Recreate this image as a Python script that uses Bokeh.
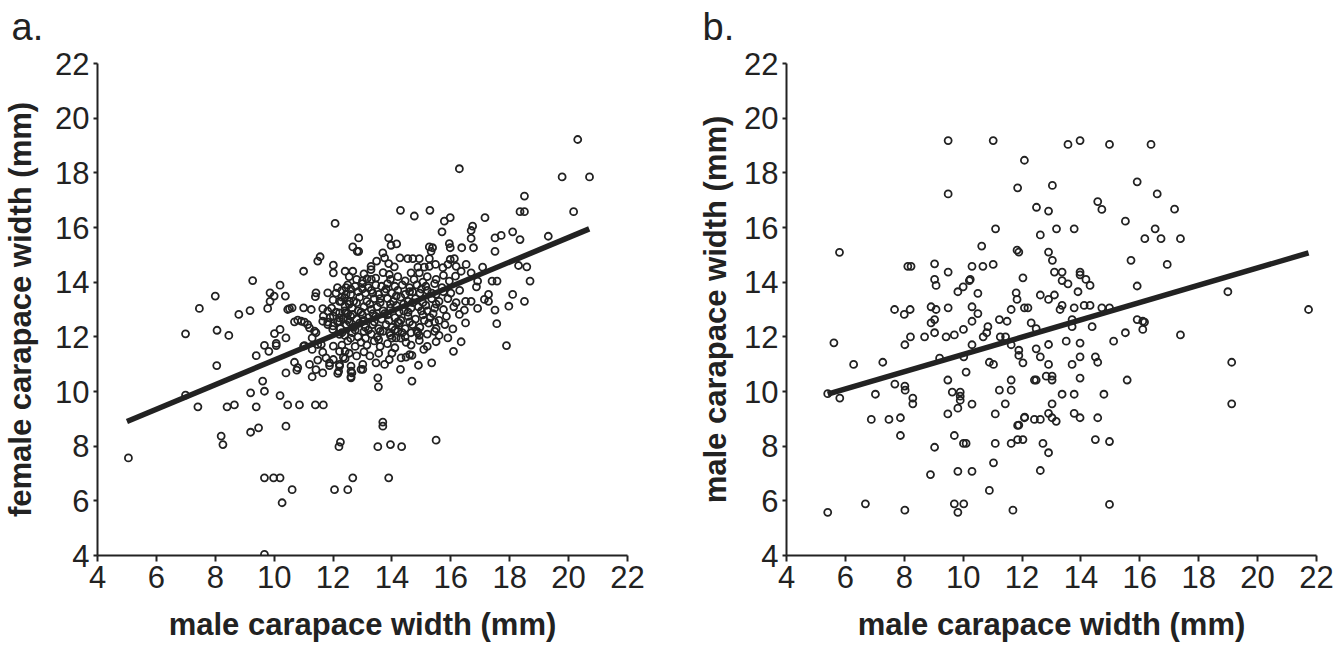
from bokeh.plotting import figure
from bokeh.layouts import row
from bokeh.models import Range1d, FixedTicker, Title
from bokeh.embed import file_html
from bokeh.resources import INLINE

# ---------------- data ----------------
tick_values = [4, 6, 8, 10, 12, 14, 16, 18, 20, 22]

# panel a: male vs female carapace width (mm), pairs
a_outer = [
    (5.05, 7.57), (6.99, 12.11), (6.99, 9.87), (7.41, 9.44), (7.46, 13.04), (8.0, 13.49),
    (8.05, 10.95), (8.06, 12.24), (8.2, 8.37), (8.26, 8.06), (8.4, 9.44), (8.46, 12.05),
    (8.65, 9.51), (8.8, 12.82), (9.18, 12.96), (9.2, 8.51), (9.47, 8.67), (9.2, 9.95),
    (9.27, 14.06), (9.39, 9.44), (9.39, 11.31), (9.61, 10.38), (9.67, 10.01), (9.67, 11.69),
    (9.82, 11.47), (9.78, 13.04), (9.86, 13.61), (10.0, 13.49), (9.86, 13.3), (10.2, 13.89),
    (10.38, 13.49), (10.52, 13.03), (10.46, 13.0), (10.61, 13.06), (11.0, 13.06), (11.26, 13.0),
    (11.65, 13.03), (11.82, 12.94), (11.4, 13.47), (11.42, 13.61), (11.82, 13.61), (11.0, 14.4),
    (11.56, 14.93), (11.48, 14.77), (12.01, 14.62), (12.01, 14.34), (12.07, 16.15), (12.41, 14.4),
    (12.44, 13.8), (12.44, 13.55), (12.22, 13.3), (12.41, 13.12), (12.22, 12.88), (12.44, 12.88),
    (10.69, 12.55), (10.92, 12.57), (11.14, 12.45), (10.8, 12.61), (11.03, 12.54), (11.2, 12.33),
    (11.65, 12.57), (11.82, 12.45), (11.67, 12.76), (11.82, 12.54), (12.01, 12.76), (12.22, 12.57),
    (11.42, 12.15), (11.29, 11.96), (11.37, 12.21), (11.99, 12.27), (12.22, 12.09), (10.01, 12.12),
    (10.2, 12.27), (10.4, 11.96), (10.07, 11.76), (10.07, 11.68), (11.03, 11.68), (11.29, 11.54),
    (11.48, 11.72), (11.65, 11.44), (11.0, 11.66), (11.6, 11.72), (12.01, 11.66), (12.22, 11.47),
    (12.41, 11.47), (12.01, 11.17), (12.22, 10.99), (12.41, 11.2), (11.48, 11.15), (11.76, 11.23),
    (10.69, 11.07), (10.8, 10.87), (10.77, 10.78), (11.2, 10.99), (11.42, 10.8), (11.65, 10.68),
    (11.29, 10.54), (11.88, 10.95), (12.19, 10.74), (10.4, 10.68), (10.2, 9.85), (10.46, 9.51),
    (10.86, 9.51), (11.4, 9.51), (11.67, 9.51), (10.4, 8.73), (12.25, 8.15), (12.2, 7.98),
    (9.67, 6.84), (9.98, 6.84), (10.2, 6.84), (10.27, 5.93), (10.61, 6.41), (9.67, 4.04),
    (12.05, 6.41), (12.5, 6.41), (12.67, 6.84), (13.89, 6.84), (13.69, 8.73), (13.69, 8.88),
    (15.5, 8.22), (13.52, 7.98), (13.95, 8.06), (14.33, 7.98),
    (20.31, 19.22), (19.78, 17.85), (20.71, 17.85), (16.29, 18.15), (18.5, 17.15), (18.35, 16.58),
    (18.5, 16.58), (20.17, 16.58), (14.29, 16.63), (14.76, 16.42), (15.29, 16.63), (15.78, 16.23),
    (15.98, 16.36), (15.7, 15.84), (16.74, 16.05), (16.69, 15.89), (16.69, 15.6), (17.16, 16.36),
    (18.1, 15.84), (17.5, 15.62), (17.71, 15.71), (18.35, 15.56), (19.31, 15.68), (12.87, 15.62),
    (13.89, 15.62), (13.97, 15.35), (14.16, 15.4), (12.67, 15.29), (12.82, 15.13), (12.87, 15.13),
    (15.27, 15.29), (15.38, 15.26), (15.33, 15.13), (15.95, 15.41), (15.98, 15.26), (16.37, 15.26),
    (16.77, 15.26), (17.5, 15.13), (12.67, 14.4), (13.15, 14.12), (13.29, 14.58), (13.29, 14.46),
    (13.48, 14.77), (13.69, 15.07), (13.75, 14.89), (13.89, 14.68), (14.08, 14.56), (14.27, 14.89),
    (13.91, 14.28), (14.54, 14.86), (14.71, 14.86), (14.93, 14.86), (14.88, 14.55), (15.1, 14.55),
    (15.27, 14.86), (15.27, 14.58), (15.48, 14.65), (14.65, 14.34), (14.93, 14.34), (15.73, 14.53),
    (15.9, 14.65), (15.98, 14.83), (16.12, 14.86), (16.18, 14.58), (16.35, 14.4), (16.52, 14.65),
    (17.08, 14.55), (18.3, 14.61), (18.58, 14.56), (18.69, 14.04), (17.4, 14.04), (17.57, 14.04),
    (16.69, 14.34), (16.91, 14.04), (16.87, 13.83), (17.28, 13.55), (18.1, 13.55), (18.5, 13.3),
    (17.97, 13.12), (17.5, 12.98), (17.56, 12.48), (17.14, 13.37), (17.28, 13.3), (16.91, 13.04),
    (16.46, 12.98), (16.29, 12.82), (16.5, 12.51), (16.18, 13.25), (16.5, 13.3), (16.69, 13.3),
    (15.95, 14.04), (16.16, 14.22), (12.39, 13.43), (12.56, 13.3), (12.28, 13.3), (12.67, 12.82),
    (12.5, 12.63), (12.22, 12.69), (17.89, 11.68), (16.35, 11.82), (16.09, 11.47), (15.5, 11.82),
    (15.35, 11.05), (15.08, 11.54), (14.9, 10.96), (14.68, 10.38), (14.29, 10.81), (14.48, 11.26),
    (14.68, 11.32), (14.31, 11.23), (13.52, 10.5), (13.54, 10.17), (12.61, 10.5), (12.64, 10.68),
    (12.61, 10.93), (12.95, 10.81), (14.93, 11.87), (15.9, 11.96), (16.07, 12.29), (14.48, 11.8),
    (14.93, 12.05), (14.88, 12.15), (14.14, 11.96), (13.92, 12.15), (13.91, 11.17), (13.75, 10.99),
    (13.46, 11.05), (13.01, 10.99), (13.01, 10.81), (12.61, 10.74), (12.61, 10.54), (12.22, 10.93),
    (12.16, 10.66), (11.88, 11.05),
]
a_core = [
    (12.55, 14.2), (12.8, 14.1), (13.05, 14.3), (13.45, 14.15), (13.7, 14.35), (14.2, 14.2),
    (14.45, 14.05), (15.2, 14.2), (15.5, 14.1), (15.75, 14.25),
    (12.5, 13.9), (12.75, 13.85), (13.0, 13.95), (13.2, 13.8), (13.45, 13.9), (13.65, 13.85),
    (13.85, 13.95), (14.1, 13.85), (14.35, 13.9), (14.6, 13.8), (14.85, 13.9), (15.15, 13.85),
    (15.45, 13.95), (15.7, 13.8),
    (12.1, 13.6), (12.3, 13.7), (12.6, 13.55), (12.85, 13.65), (13.1, 13.6), (13.3, 13.7),
    (13.55, 13.55), (13.75, 13.65), (14.0, 13.6), (14.2, 13.7), (14.45, 13.55), (14.7, 13.65),
    (14.95, 13.6), (15.2, 13.7), (15.5, 13.55), (15.75, 13.65), (16.0, 13.6), (16.3, 13.7),
    (12.0, 13.35), (12.7, 13.3), (12.9, 13.45), (13.15, 13.3), (13.4, 13.4), (13.6, 13.25),
    (13.85, 13.4), (14.05, 13.3), (14.3, 13.45), (14.55, 13.3), (14.8, 13.4), (15.05, 13.25),
    (15.35, 13.4), (15.6, 13.3), (15.9, 13.4),
    (11.95, 13.05), (12.4, 12.95), (12.65, 13.05), (12.85, 12.95), (13.05, 13.1), (13.3, 13.0),
    (13.5, 13.1), (13.7, 12.95), (13.95, 13.05), (14.15, 13.15), (14.4, 12.95), (14.65, 13.05),
    (14.9, 13.1), (15.2, 12.95), (15.45, 13.05), (15.75, 13.0), (16.1, 13.1),
    (11.9, 12.7), (12.35, 12.65), (12.6, 12.75), (12.8, 12.65), (13.0, 12.8), (13.2, 12.7),
    (13.45, 12.75), (13.65, 12.65), (13.85, 12.8), (14.1, 12.7), (14.3, 12.6), (14.55, 12.75),
    (14.8, 12.65), (15.05, 12.8), (15.3, 12.7), (15.6, 12.6), (15.85, 12.75),
    (12.0, 12.4), (12.25, 12.3), (12.45, 12.45), (12.7, 12.35), (12.9, 12.5), (13.1, 12.35),
    (13.35, 12.45), (13.55, 12.3), (13.8, 12.45), (14.0, 12.35), (14.25, 12.5), (14.45, 12.3),
    (14.7, 12.45), (14.95, 12.35), (15.25, 12.5), (15.5, 12.3), (15.8, 12.45),
    (12.4, 12.05), (12.65, 12.15), (12.85, 12.0), (13.05, 12.2), (13.3, 12.1), (13.5, 12.0),
    (13.7, 12.2), (13.95, 12.05), (14.2, 12.2), (14.45, 12.0), (14.65, 12.15), (15.2, 12.1),
    (15.45, 12.2),
    (12.3, 11.7), (12.5, 11.85), (12.75, 11.65), (12.95, 11.8), (13.15, 11.7), (13.4, 11.85),
    (13.6, 11.65), (13.85, 11.75), (14.1, 11.6), (14.65, 11.7), (15.2, 11.65),
    (12.35, 11.25), (12.55, 11.4), (12.8, 11.3), (13.05, 11.45), (13.25, 11.3), (13.55, 11.4),
    (14.0, 11.4), (14.6, 11.35),
]
# extra overlapping points where the reference cloud is nearly solid black
a_core_dense = [
    (12.15, 13.8), (12.6, 13.75), (13.0, 13.75), (13.35, 13.6), (13.8, 13.75), (14.15, 13.5),
    (14.6, 13.65), (15.0, 13.75), (15.35, 13.6),
    (12.3, 13.45), (12.55, 13.2), (12.8, 13.25), (13.25, 13.2), (13.6, 13.4), (13.95, 13.2),
    (14.4, 13.2), (14.7, 13.25), (15.15, 13.15), (15.5, 13.2),
    (12.1, 12.9), (12.5, 12.85), (12.95, 12.9), (13.35, 12.85), (13.75, 12.85), (14.25, 12.9),
    (14.55, 12.9), (15.0, 12.95), (15.4, 12.85),
    (12.15, 12.55), (12.55, 12.55), (13.05, 12.6), (13.4, 12.55), (13.9, 12.6), (14.2, 12.55),
    (14.6, 12.55), (15.1, 12.6), (15.45, 12.55),
    (12.3, 12.15), (12.75, 12.25), (13.2, 12.25), (13.6, 12.2), (14.1, 12.25), (14.35, 12.15),
    (14.85, 12.2), (15.6, 12.05),
    (12.6, 11.95), (13.1, 11.95), (13.55, 11.9), (14.0, 11.95), (14.3, 11.95),
    (13.0, 14.05), (13.3, 14.1), (13.95, 14.1), (14.75, 14.1), (15.05, 14.0),
]
a_all = a_outer + a_core + a_core_dense
a_x = [p[0] for p in a_all]
a_y = [p[1] for p in a_all]
a_fit_x = [5.0, 20.7]
a_fit_y = [8.9, 15.95]

# panel b: male vs male carapace width (mm)
b_points = [
    (5.8, 15.09), (9.49, 19.18), (11.02, 19.18), (9.49, 17.23), (11.1, 15.95), (11.85, 17.45),
    (10.63, 15.32), (8.12, 14.58), (8.23, 14.58), (9.03, 14.67), (9.49, 14.37), (10.3, 14.58),
    (10.67, 14.58), (11.02, 14.65), (9.03, 14.1), (9.08, 13.88), (10.24, 14.1), (10.0, 13.83),
    (9.82, 13.65), (10.5, 13.59), (11.8, 13.61), (7.67, 13.0), (8.0, 12.82), (8.2, 13.0),
    (8.91, 13.1), (9.08, 13.0), (9.49, 13.06), (10.3, 13.1), (10.5, 12.85), (11.63, 13.0),
    (8.91, 12.51), (9.03, 12.63), (10.3, 12.57), (11.23, 12.63), (11.49, 12.57), (10.84, 12.37),
    (5.61, 11.78), (5.40, 9.92), (5.81, 9.76), (6.28, 10.99), (7.27, 11.07), (8.02, 11.71),
    (8.21, 12.0), (8.69, 12.0), (9.03, 12.15), (9.42, 12.0), (9.7, 12.07), (10.01, 12.27),
    (10.3, 11.71), (10.02, 11.27), (10.68, 12.0), (10.8, 12.15), (11.26, 12.0), (11.44, 12.0),
    (11.63, 11.71), (10.89, 11.07), (11.03, 10.99), (10.1, 10.71), (7.02, 9.9), (7.68, 10.27),
    (8.02, 10.2), (8.03, 10.05), (8.29, 9.76), (8.29, 9.55), (9.48, 10.42), (9.63, 9.98),
    (9.9, 9.98), (9.9, 9.83), (9.9, 9.68), (10.3, 9.54), (9.48, 9.18), (9.82, 9.39),
    (11.09, 9.18), (11.23, 10.05), (11.63, 10.05), (11.63, 10.42), (11.43, 9.55), (6.88, 8.98),
    (7.48, 8.98), (7.87, 9.04), (7.87, 8.39), (9.03, 7.96), (9.7, 8.39), (10.01, 8.1),
    (10.1, 8.1), (11.09, 8.1), (11.63, 8.1), (11.85, 8.24), (11.85, 8.76), (8.89, 6.96),
    (9.82, 7.08), (10.3, 7.08), (11.03, 7.39), (10.89, 6.38), (5.40, 5.58), (6.68, 5.89),
    (8.02, 5.66), (9.7, 5.89), (10.02, 5.89), (9.82, 5.58), (11.69, 5.66),
    (12.08, 18.46), (11.83, 15.17), (11.89, 15.1), (12.03, 14.16), (10.21, 14.06), (11.83, 13.37),
    (12.08, 13.06), (12.2, 13.06), (12.31, 12.51), (11.89, 11.51), (11.89, 11.32), (12.03, 11.05),
    (9.2, 11.22), (12.03, 8.24), (11.89, 8.77), (12.08, 9.04),
    (13.56, 19.04), (13.97, 19.18), (14.97, 19.04), (16.38, 19.04), (13.03, 17.54), (15.91, 17.67),
    (16.59, 17.23), (12.49, 16.74), (12.9, 16.6), (14.57, 16.95), (14.71, 16.66), (17.18, 16.67),
    (15.51, 16.23), (13.17, 15.95), (13.77, 15.95), (16.52, 15.95), (12.62, 15.73), (16.17, 15.59),
    (16.72, 15.59), (17.38, 15.59), (12.9, 15.1), (13.03, 14.8), (15.7, 14.8), (16.93, 14.65),
    (13.1, 14.37), (13.36, 14.37), (13.36, 14.06), (13.56, 13.94), (13.97, 14.37), (13.97, 14.27),
    (14.17, 14.1), (14.31, 13.88), (13.9, 13.65), (15.91, 13.86), (18.99, 13.65), (12.62, 13.53),
    (12.9, 13.37), (13.1, 13.53), (13.36, 13.15), (13.29, 13.0), (13.77, 13.06), (14.11, 13.15),
    (14.31, 13.15), (14.71, 13.06), (14.97, 13.06), (21.73, 13.0), (13.7, 12.63), (14.38, 12.37),
    (15.91, 12.63), (16.1, 12.57), (16.16, 12.54), (12.48, 12.3), (13.7, 12.37), (16.1, 12.27),
    (15.51, 12.15), (15.11, 11.84), (17.38, 12.07), (12.48, 11.56), (12.9, 11.72), (13.5, 11.84),
    (13.97, 11.77), (12.62, 11.27), (12.9, 10.99), (13.7, 10.99), (13.97, 11.27), (14.49, 11.27),
    (14.57, 11.07), (19.12, 11.07), (12.42, 10.42), (12.48, 10.42), (12.82, 10.56), (13.02, 10.56),
    (13.02, 10.42), (13.97, 10.49), (15.57, 10.42), (13.36, 9.9), (13.77, 9.9), (14.78, 9.9),
    (13.02, 9.55), (19.12, 9.55), (12.9, 9.2), (13.02, 9.04), (13.16, 8.91), (12.42, 8.98),
    (12.62, 8.98), (12.09, 9.06), (13.77, 9.2), (13.97, 9.04), (14.57, 9.04), (12.71, 8.1),
    (12.9, 7.76), (14.49, 8.24), (14.97, 8.17), (12.62, 7.11), (14.97, 5.87),
]
b_x = [p[0] for p in b_points]
b_y = [p[1] for p in b_points]
b_fit_x = [5.4, 21.73]
b_fit_y = [9.9, 15.07]

x_title = "male carapace width (mm)"
a_y_title = "female carapace width (mm)"
b_y_title = "male carapace width (mm)"
panel_letters = ["a.", "b."]

INK = "#222222"
FONT = "Liberation Sans"


def panel(xs, ys, fx, fy, ytitle, letter, left, right, ylab_standoff, letter_offset):
    p = figure(frame_width=530, frame_height=492,
               x_range=Range1d(4, 22), y_range=Range1d(4, 22),
               min_border_left=left, min_border_right=right,
               min_border_top=63, min_border_bottom=84,
               output_backend="svg", toolbar_location=None)
    p.outline_line_color = None
    p.grid.visible = False
    p.background_fill_color = "white"
    p.border_fill_color = "white"

    # invisible spacer panel between frame and the panel letter (lifts the letter)
    p.add_layout(Title(text=" ", text_font=FONT, text_font_size="10px", standoff=3), "above")

    p.title.text = letter
    p.title.align = "left"
    p.title.offset = letter_offset
    p.title.standoff = 0
    p.title.text_font = FONT
    p.title.text_font_size = "38px"
    p.title.text_font_style = "normal"
    p.title.text_color = INK

    p.scatter(xs, ys, marker="circle", size=7, fill_color=None,
              line_color=INK, line_width=1.8)
    p.line(fx, fy, line_width=5.5, line_color=INK)

    for ax in (p.xaxis[0], p.yaxis[0]):
        ax.ticker = FixedTicker(ticks=tick_values)
        ax.axis_line_color = INK
        ax.axis_line_width = 2
        ax.major_tick_line_color = INK
        ax.major_tick_line_width = 2
        ax.major_tick_in = 0
        ax.minor_tick_line_color = None
        ax.major_label_text_font = FONT
        ax.major_label_text_font_size = "31px"
        ax.major_label_text_color = INK
        ax.axis_label_text_font = FONT
        ax.axis_label_text_font_size = "31px"
        ax.axis_label_text_font_style = "bold"
        ax.axis_label_text_color = INK

    p.xaxis.axis_label = x_title
    p.xaxis.major_tick_out = 6
    p.xaxis.major_label_standoff = 4
    p.xaxis.axis_label_standoff = 16

    p.yaxis.axis_label = ytitle
    p.yaxis.major_tick_out = 4
    p.yaxis.major_label_standoff = 4
    p.yaxis.axis_label_standoff = ylab_standoff
    return p


pa = panel(a_x, a_y, a_fit_x, a_fit_y, a_y_title, panel_letters[0], 90, 52, 14, -86)
pb = panel(b_x, b_y, b_fit_x, b_fit_y, b_y_title, panel_letters[1], 107, 19, 8, -84)

layout = row(pa, pb)
open("out.html", "w").write(file_html(layout, INLINE))
